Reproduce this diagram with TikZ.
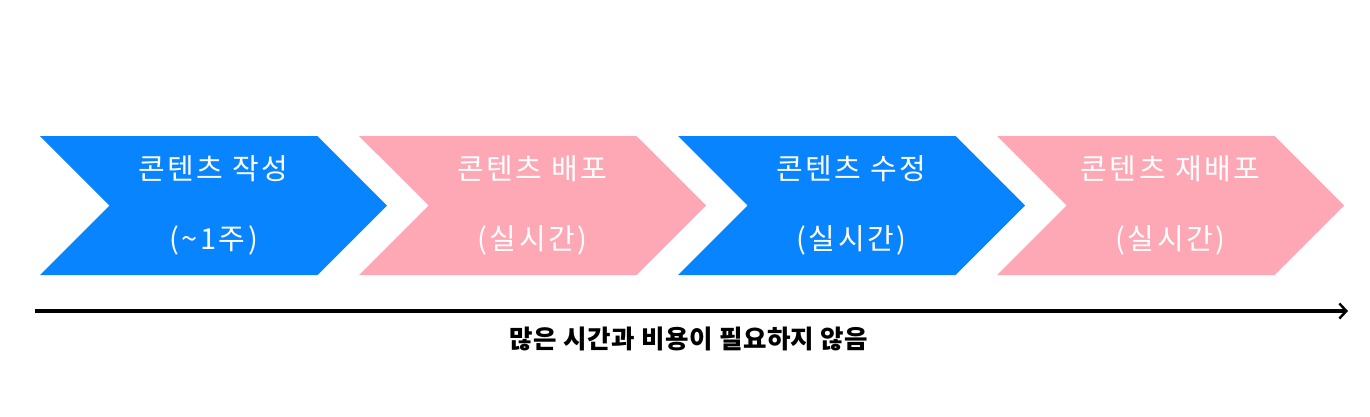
\documentclass[tikz,border=0pt]{standalone}
\usepackage{fontspec}
\setmainfont{Noto Sans CJK KR}
\newfontfamily\chevfont[LetterSpace=9]{Noto Sans CJK KR}
\newfontfamily\notefont[LetterSpace=2]{Noto Sans CJK KR}
\usepackage{xcolor}
\usepackage{tikz}
\usetikzlibrary{shapes.symbols,arrows.meta,positioning}
\definecolor{stepblue}{RGB}{8,132,255}
\definecolor{steppink}{RGB}{255,168,181}
\tikzset{
  chev/.style={signal, signal from=west, signal to=east, signal pointer angle=90, minimum width=347pt, minimum height=139pt, inner sep=0pt, text=white, align=center, font=\chevfont\fontsize{29}{70}\selectfont},
  chevblue/.style={chev, fill=stepblue},
  chevpink/.style={chev, fill=steppink},
  tarrow/.style={-{Straight Barb[length=7pt,width=15pt,line width=2.4pt]}, line width=3.2pt, black}
}

\begin{document}
\begin{tikzpicture}[x=1pt,y=-1pt]
\useasboundingbox (0,0) rectangle (1370,416);
\node[chevblue] (write) at (213.5,205.5) {콘텐츠 작성\\(\textasciitilde1주)};
\node[chevpink] (deploy) at (532.5,205.5) {콘텐츠 배포\\(실시간)};
\node[chevblue] (edit) at (851.5,205.5) {콘텐츠 수정\\(실시간)};
\node[chevpink] (redeploy) at (1170.5,205.5) {콘텐츠 재배포\\(실시간)};
\coordinate (tstart) at (35,311);
\coordinate (tend) at (1348,311);
\draw[tarrow] (tstart) -- (tend);
\node[font=\notefont\fontsize{25.5}{30}\selectfont\bfseries] (note) at (689,339) {많은 시간과 비용이 필요하지 않음};
\end{tikzpicture}
\end{document}
